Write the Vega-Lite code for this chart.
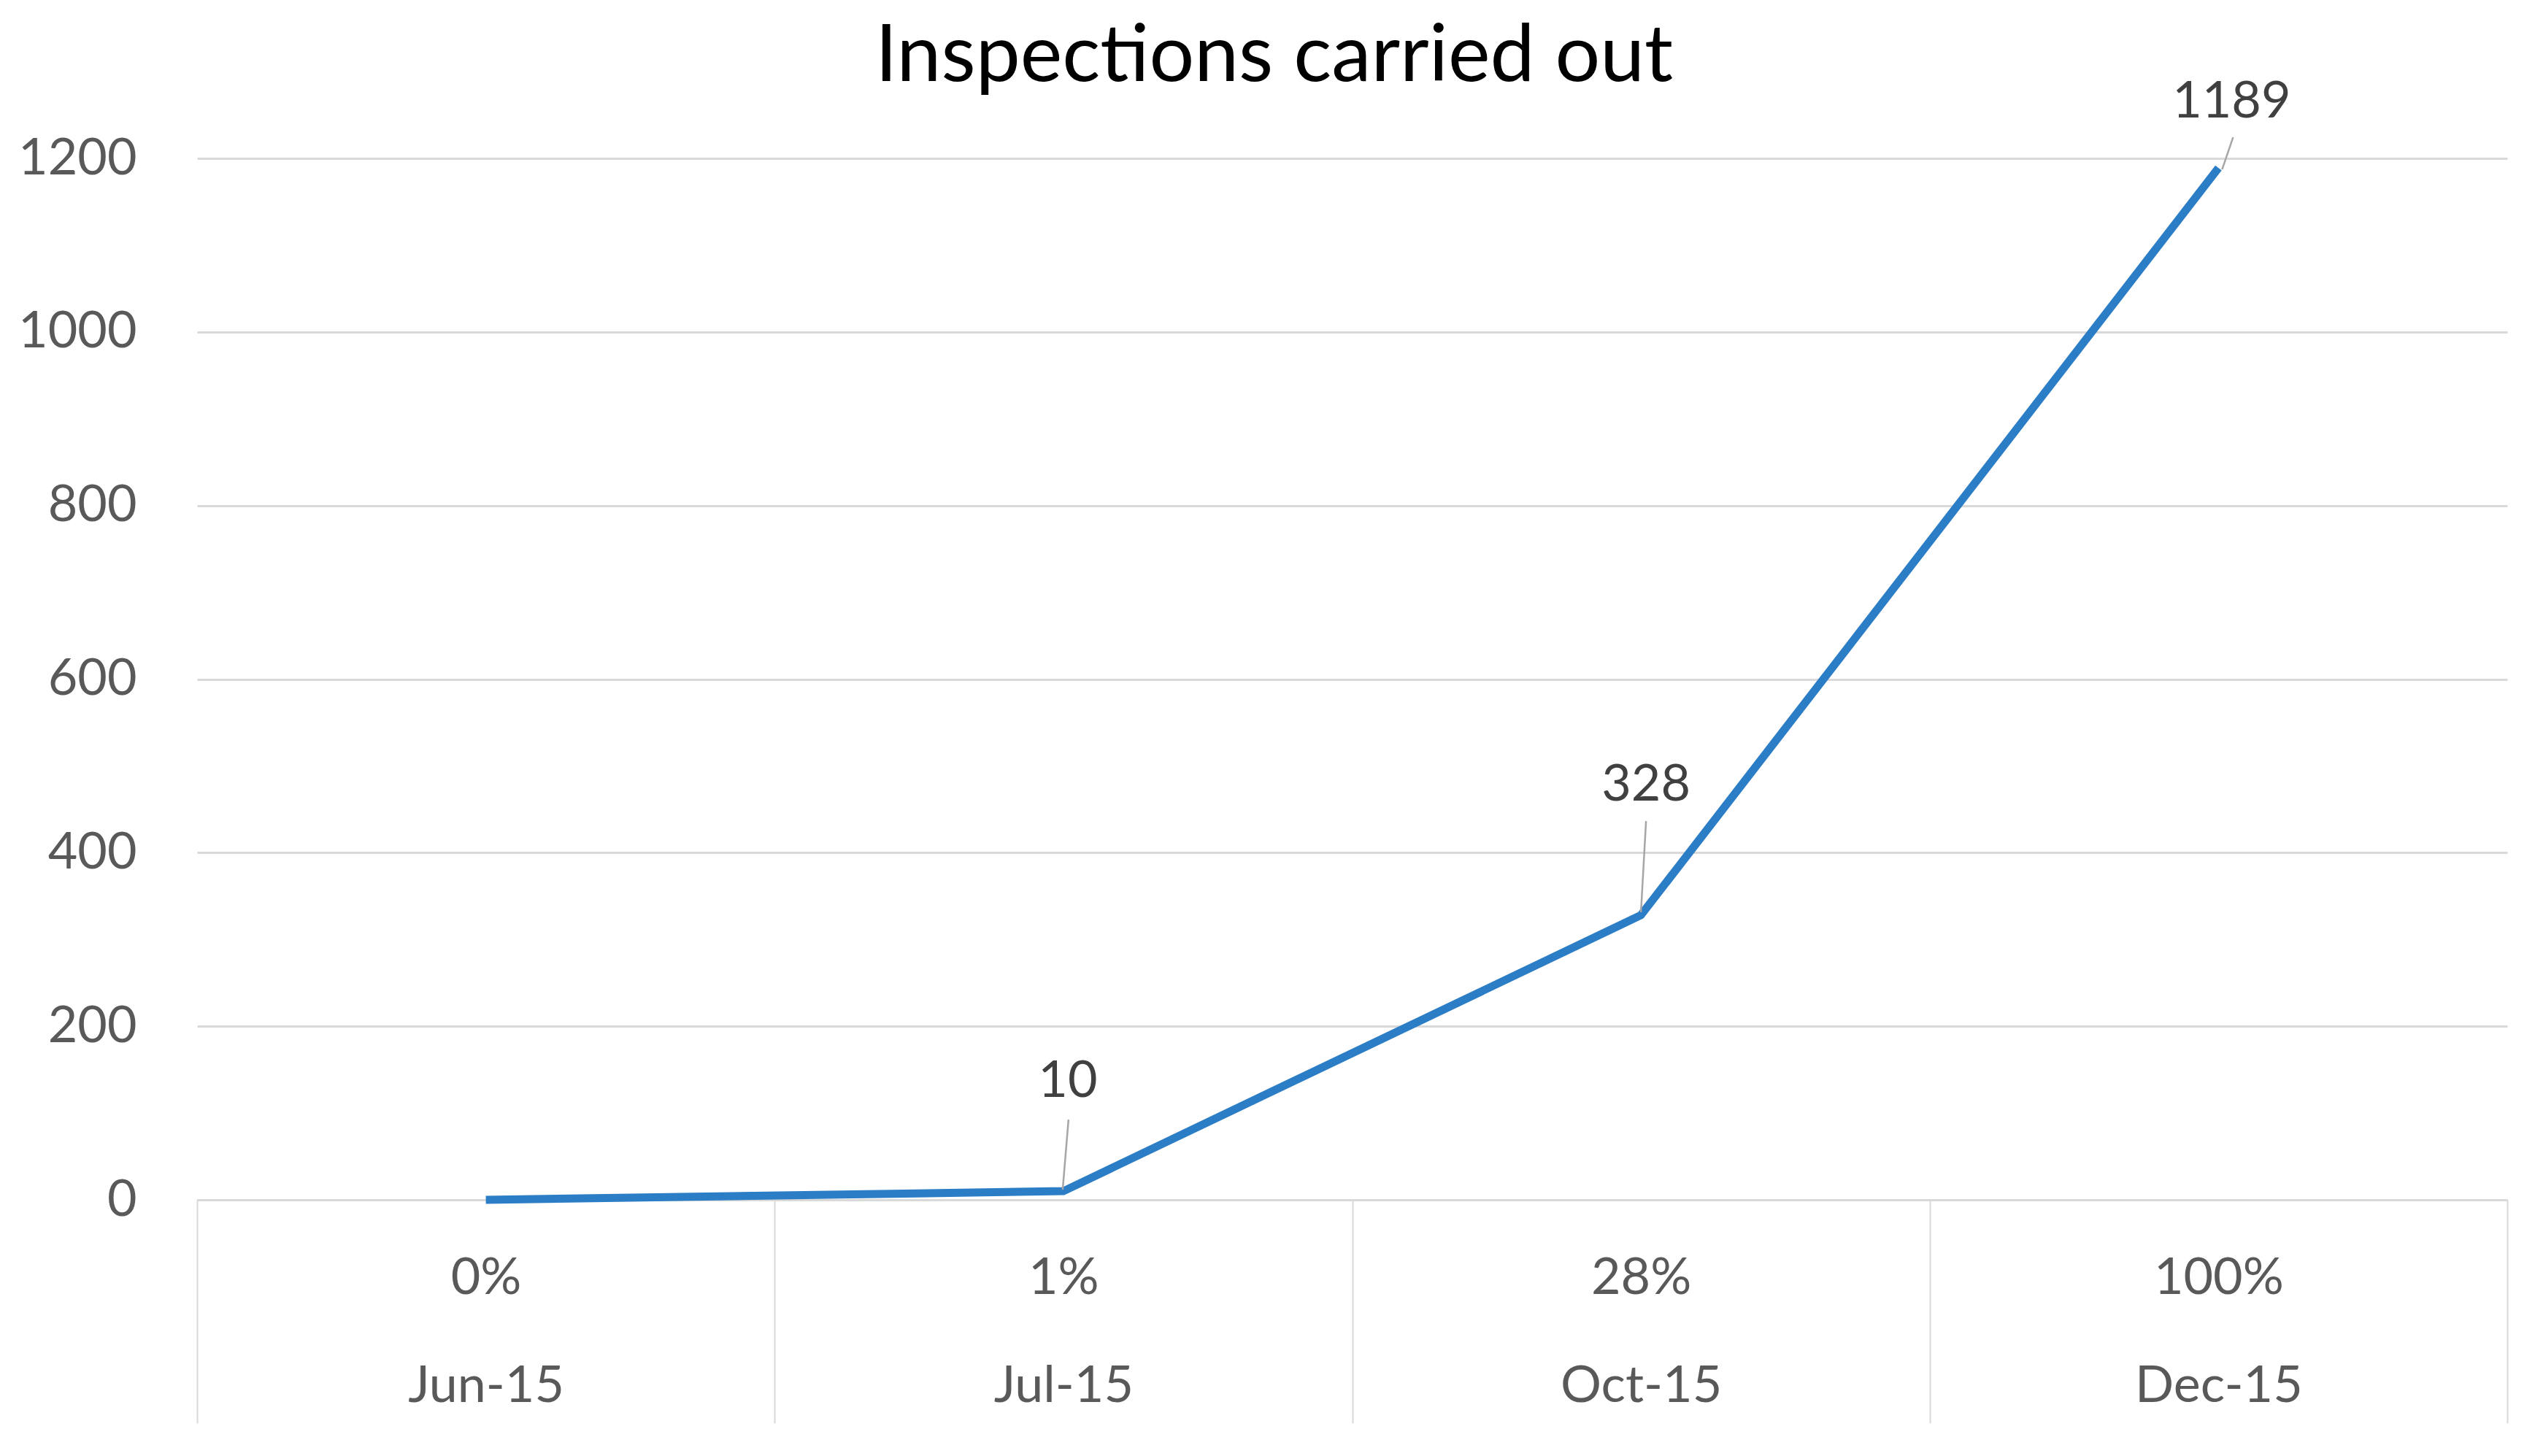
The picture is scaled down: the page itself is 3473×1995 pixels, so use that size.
{
  "$schema": "https://vega.github.io/schema/vega-lite/v6.json",
  "width": 3165,
  "height": 1427,
  "autosize": {"type": "none"},
  "padding": {"left": 270, "top": 217, "right": 38, "bottom": 351},
  "background": "white",
  "config": {"view": {"stroke": null}, "font": "Lato"},
  "title": {
    "text": "Inspections carried out",
    "font": "Lato",
    "fontSize": 109,
    "fontWeight": "normal",
    "color": "#000000",
    "anchor": "middle",
    "frame": "group",
    "baseline": "alphabetic",
    "offset": -115,
    "dx": -107
  },
  "data": {
    "values": [
      {"category": "0%|Jun-15", "month": "Jun-15", "pct": "0%", "inspections": 0},
      {"category": "1%|Jul-15", "month": "Jul-15", "pct": "1%", "inspections": 10},
      {"category": "28%|Oct-15", "month": "Oct-15", "pct": "28%", "inspections": 328},
      {"category": "100%|Dec-15", "month": "Dec-15", "pct": "100%", "inspections": 1189}
    ]
  },
  "encoding": {
    "x": {
      "field": "category",
      "type": "nominal",
      "sort": null,
      "bandPosition": 0.5,
      "scale": {"type": "band", "paddingInner": 0, "paddingOuter": 0},
      "axis": {
        "title": null,
        "labelAngle": 0,
        "labelExpr": "split(datum.label, '|')",
        "labelFont": "Lato",
        "labelFontSize": 70,
        "labelColor": "#595959",
        "labelLimit": 0,
        "labelLineHeight": 148,
        "labelBaseline": "top",
        "labelPadding": -233,
        "tickBand": "extent",
        "tickSize": 306,
        "tickColor": "#D9D9D9",
        "tickWidth": 2,
        "domainColor": "#D9D9D9",
        "domainWidth": 3,
        "grid": false
      }
    },
    "y": {
      "field": "inspections",
      "type": "quantitative",
      "scale": {"domain": [0, 1200], "nice": false},
      "axis": {
        "title": null,
        "values": [0, 200, 400, 600, 800, 1000, 1200],
        "format": "d",
        "labelFont": "Lato",
        "labelFontSize": 70,
        "labelColor": "#595959",
        "labelPadding": 83,
        "ticks": false,
        "domain": false,
        "grid": true,
        "gridColor": "#D9D9D9",
        "gridWidth": 3
      }
    }
  },
  "layer": [
    {
      "mark": {"type": "line", "color": "#2B7DC6", "strokeWidth": 11, "strokeCap": "butt", "strokeJoin": "miter"}
    },
    {
      "transform": [{"filter": "datum.month == 'Jul-15'"}],
      "layer": [
        {
          "mark": {"type": "rule", "color": "#A6A6A6", "strokeWidth": 2.5, "yOffset": -2, "y2Offset": -98, "xOffset": -1, "x2Offset": 7},
          "encoding": {"x2": {"field": "category"}, "y2": {"field": "inspections"}}
        },
        {
          "mark": {"type": "text", "font": "Lato", "fontSize": 70, "color": "#404040", "baseline": "middle", "align": "center", "dx": 6, "dy": -150},
          "encoding": {"text": {"field": "inspections"}}
        }
      ]
    },
    {
      "transform": [{"filter": "datum.month == 'Oct-15'"}],
      "layer": [
        {
          "mark": {"type": "rule", "color": "#A6A6A6", "strokeWidth": 2.5, "yOffset": -4, "y2Offset": -129, "xOffset": 0, "x2Offset": 7},
          "encoding": {"x2": {"field": "category"}, "y2": {"field": "inspections"}}
        },
        {
          "mark": {"type": "text", "font": "Lato", "fontSize": 70, "color": "#404040", "baseline": "middle", "align": "center", "dx": 7, "dy": -178},
          "encoding": {"text": {"field": "inspections"}}
        }
      ]
    },
    {
      "transform": [{"filter": "datum.month == 'Dec-15'"}],
      "layer": [
        {
          "mark": {"type": "rule", "color": "#A6A6A6", "strokeWidth": 2.5, "yOffset": 2, "y2Offset": -42, "xOffset": 5, "x2Offset": 20},
          "encoding": {"x2": {"field": "category"}, "y2": {"field": "inspections"}}
        },
        {
          "mark": {"type": "text", "font": "Lato", "fontSize": 70, "color": "#404040", "baseline": "middle", "align": "center", "dx": 18, "dy": -90},
          "encoding": {"text": {"field": "inspections"}}
        }
      ]
    }
  ]
}
